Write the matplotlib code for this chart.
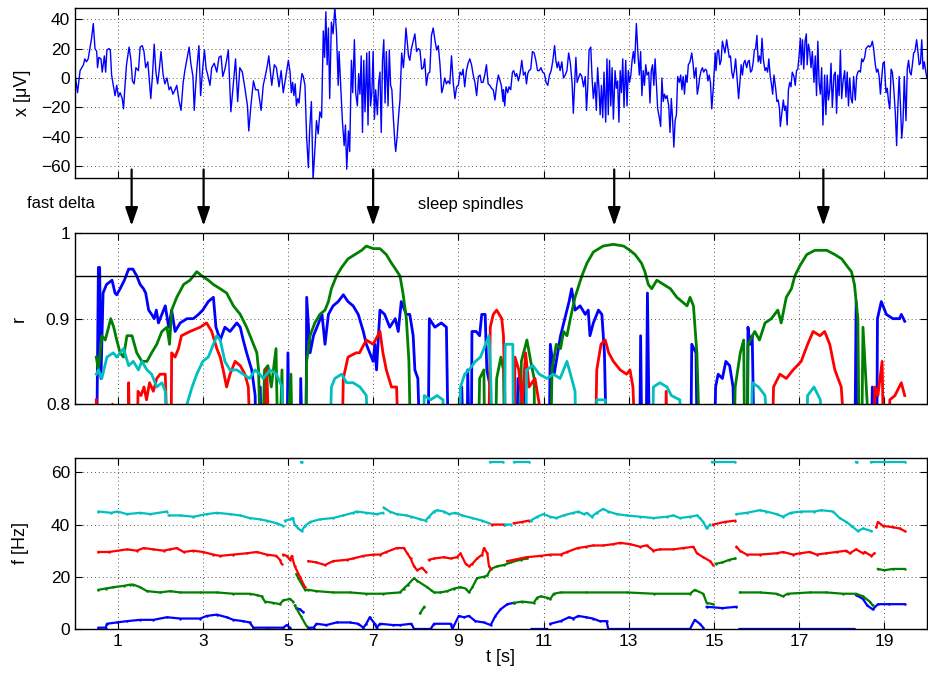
import numpy as np
import matplotlib
matplotlib.use('Agg')
import matplotlib.pyplot as plt

nan = float('nan')

# ---------------- data ----------------
# raw EEG trace, x [uV] against t [s]
eeg_t = [0.00, 0.06, 0.12, 0.16, 0.20, 0.23, 0.27, 0.31, 0.35, 0.39,
         0.43, 0.47, 0.51, 0.53, 0.56, 0.61, 0.64, 0.69, 0.72, 0.75,
         0.80, 0.83, 0.86, 0.90, 0.94, 0.98, 1.02, 1.06, 1.11, 1.14,
         1.17, 1.21, 1.27, 1.31, 1.35, 1.39, 1.43, 1.49, 1.53, 1.58,
         1.62, 1.66, 1.71, 1.74, 1.78, 1.82, 1.86, 1.90, 1.94, 1.98,
         2.02, 2.07, 2.11, 2.16, 2.21, 2.25, 2.30, 2.35, 2.39, 2.44,
         2.49, 2.54, 2.58, 2.63, 2.68, 2.72, 2.77, 2.80, 2.83, 2.86,
         2.91, 2.95, 3.00, 3.04, 3.08, 3.11, 3.17, 3.21, 3.27, 3.33,
         3.38, 3.43, 3.47, 3.52, 3.56, 3.60, 3.66, 3.72, 3.77, 3.82,
         3.87, 3.93, 3.99, 4.05, 4.08, 4.13, 4.19, 4.24, 4.30, 4.37,
         4.42, 4.48, 4.52, 4.55, 4.62, 4.68, 4.73, 4.79, 4.84, 4.89,
         5.01, 5.05, 5.08, 5.11, 5.14, 5.17, 5.20, 5.23, 5.26, 5.30,
         5.33, 5.36, 5.40, 5.44, 5.48, 5.51, 5.55, 5.59, 5.63, 5.67,
         5.71, 5.75, 5.79, 5.83, 5.86, 5.89, 5.92, 5.95, 5.98, 6.02,
         6.06, 6.10, 6.14, 6.18, 6.20, 6.24, 6.28, 6.32, 6.35, 6.38,
         6.42, 6.45, 6.49, 6.52, 6.56, 6.59, 6.63, 6.66, 6.69, 6.72,
         6.75, 6.78, 6.81, 6.85, 6.88, 6.91, 6.94, 6.97, 7.00, 7.03,
         7.06, 7.10, 7.13, 7.16, 7.19, 7.22, 7.25, 7.28, 7.31, 7.35,
         7.38, 7.41, 7.44, 7.47, 7.51, 7.53, 7.56, 7.60, 7.63, 7.67,
         7.71, 7.74, 7.77, 7.80, 7.83, 7.86, 7.90, 7.94, 7.98, 8.02,
         8.06, 8.10, 8.14, 8.18, 8.21, 8.25, 8.29, 8.33, 8.37, 8.41,
         8.45, 8.49, 8.53, 8.57, 8.61, 8.64, 8.68, 8.72, 8.76, 8.80,
         8.84, 8.88, 8.92, 8.96, 9.00, 9.04, 9.08, 9.11, 9.15, 9.19,
         9.23, 9.27, 9.31, 9.35, 9.39, 9.43, 9.47, 9.51, 9.54, 9.58,
         9.62, 9.66, 9.70, 9.74, 9.78, 9.82, 9.86, 9.90, 9.94, 9.98,
         10.01, 10.05,
         10.06, 10.09, 10.12, 10.16, 10.19, 10.23, 10.27, 10.30, 10.34, 10.37,
         10.41, 10.45, 10.49, 10.53, 10.57, 10.60, 10.63, 10.66, 10.70, 10.74,
         10.78, 10.82, 10.86, 10.90, 10.94, 10.98, 11.02, 11.06, 11.10, 11.14,
         11.18, 11.22, 11.26, 11.29, 11.32, 11.35, 11.39, 11.43, 11.47, 11.51,
         11.55, 11.59, 11.63, 11.67, 11.70, 11.73, 11.76, 11.79, 11.82, 11.86,
         11.90, 11.94, 11.98, 12.01, 12.04, 12.07, 12.11, 12.14, 12.17, 12.21,
         12.24, 12.27, 12.30, 12.33, 12.36, 12.39, 12.42, 12.46, 12.49, 12.52,
         12.55, 12.58, 12.61, 12.64, 12.68, 12.71, 12.74, 12.77, 12.80, 12.83,
         12.86, 12.89, 12.93, 12.96, 12.99, 13.02, 13.05, 13.08, 13.11, 13.14,
         13.18, 13.22, 13.25, 13.28, 13.31, 13.34, 13.37, 13.40, 13.43, 13.47,
         13.50, 13.53, 13.56, 13.59, 13.62, 13.65, 13.68, 13.72, 13.75, 13.78,
         13.81, 13.84, 13.87, 13.90, 13.94, 13.97, 14.00, 14.03, 14.06, 14.09,
         14.12, 14.15, 14.19, 14.22, 14.25, 14.28, 14.31, 14.34, 14.37, 14.40,
         14.44, 14.48, 14.51, 14.54, 14.58, 14.61, 14.64, 14.67, 14.70, 14.73,
         14.76, 14.80, 14.83, 14.86, 14.89, 14.92, 14.95, 14.99, 15.03,
         15.05, 15.08, 15.11, 15.14, 15.17, 15.20, 15.23, 15.26, 15.30, 15.33,
         15.36, 15.39, 15.42, 15.45, 15.48, 15.51, 15.55, 15.58, 15.61, 15.64,
         15.67, 15.70, 15.73, 15.77, 15.80, 15.83, 15.86, 15.89, 15.92, 15.95,
         15.98, 16.01, 16.04, 16.07, 16.10, 16.13, 16.16, 16.20, 16.23, 16.26,
         16.29, 16.32, 16.35, 16.38, 16.41, 16.45, 16.48, 16.51, 16.54, 16.56,
         16.59, 16.63, 16.66, 16.69, 16.72, 16.75, 16.78, 16.81, 16.84, 16.88,
         16.91, 16.94, 16.97, 17.00, 17.03, 17.05, 17.08, 17.11, 17.14, 17.17,
         17.19, 17.22, 17.25, 17.28, 17.31, 17.35, 17.38, 17.41, 17.44, 17.47,
         17.50, 17.53, 17.56, 17.60, 17.63, 17.66, 17.69, 17.72, 17.75, 17.78,
         17.82, 17.85, 17.88, 17.91, 17.94, 17.97, 18.00, 18.03, 18.07, 18.10,
         18.13, 18.16, 18.19, 18.22, 18.25, 18.28, 18.32, 18.35, 18.38, 18.41,
         18.44, 18.47, 18.50, 18.54, 18.57, 18.60, 18.63, 18.66, 18.69, 18.72,
         18.75, 18.79, 18.82, 18.85, 18.88, 18.91, 18.94, 18.97, 19.00, 19.04,
         19.07, 19.10, 19.13, 19.16, 19.19, 19.22, 19.26, 19.29, 19.32, 19.35,
         19.38, 19.41, 19.44, 19.47, 19.51, 19.54, 19.57, 19.60, 19.63, 19.66,
         19.69, 19.72, 19.76, 19.79, 19.82, 19.85, 19.88, 19.91, 19.94, 19.97,
         20.00]
eeg_x = [3, -10, 5, 7, 9, 13, 11, 13, 20, 27,
         37, 20, 18, 7, 14, 13, 4, 15, 4, 19,
         20, 19, 2, -5, -12, -5, -13, -10, -14, -21,
         -7, 9, 21, 13, -2, -4, 7, 5, 21, 22,
         18, 7, 11, 0, -14, 2, 23, 4, -4, 6,
         18, 2, -4, 0, -8, -6, -11, -8, -5, -15,
         -22, -3, 5, 13, 21, 10, 1, -22, -7, 6,
         22, -12, 7, 19, 6, 3, -5, 7, 10, 4,
         14, 15, 1, 6, 12, 19, -23, -3, 13, -16,
         7, 4, -7, -19, -36, -19, -2, -8, -8, -22,
         -5, 3, 9, 15, -5, 9, 7, -6, 5, -10,
         12, 4, -10, -3, -12, -4, -19, -14, -17, -4,
         3, 1, -5, -41, -61, -35, -16, -69, -50, -29,
         -38, -23, -27, 32, 14, 45, 9, 34, -14, 38,
         30, 48, 31, -5, 18, -6, -30, -46, -32, -62,
         -36, -50, 12, -10, 26, -10, -19, 3, -11, 15,
         -37, 12, -23, 17, -32, 18, -19, -10, 18, -28,
         -8, -25, -3, 4, -37, 12, 26, -17, 18, -19,
         19, -5, -8, -25, -44, -50, -41, -25, -15, 17,
         7, 18, 34, 25, 15, 12, 20, 25, 30, 18,
         20, 19, 6, 7, 13, -5, 3, 4, 29, 34,
         26, 19, 22, 9, -10, -7, 0, -4, -2, -4,
         15, -3, -14, -6, -5, 4, 2, 6, -6, 5,
         10, 13, 9, 2, -3, -12, 1, 2, -3, -3,
         2, 9, -4, -5, -7, -8, -15, -5, 2, -2,
         -5, -16,
         -8, -19, -6, -10, -6, -8, 4, 5, 1, 3,
         -2, 3, 12, 2, 4, -4, 3, 5, 6, 18,
         17, 12, 5, 5, 7, 4, 3, -3, -5, 2,
         5, 12, 22, 12, 7, 11, 5, 11, 0, 2,
         5, 17, 10, -3, -24, -5, 14, -3, 0, 3,
         1, -6, 1, -22, -5, 19, 21, 0, -14, -3,
         -22, 7, -6, -25, -5, -27, 4, -30, 13, -25,
         12, -19, 7, -28, 5, -7, -2, -30, 5, -10,
         13, -20, 12, -19, 5, -3, 2, 12, 18, 10,
         37, 15, 2, 18, -12, 5, -5, 9, 2, 4,
         -17, 5, 9, -5, 13, -4, -21, -27, -33, 0,
         -16, -11, -14, -12, -19, -37, -14, -28, -47, -29,
         -25, 1, -3, 2, -8, 1, -11, 2, -3, 9,
         11, 17, 10, 0, 7, -11, -6, 1, 5, 7,
         4, 6, 5, -2, 2, -3, -21, -5, 17,
         5, 18, 19, 9, 12, 25, 21, 17, 26, 20,
         14, 15, 4, 0, 5, 13, -3, -14, -3, 9,
         2, 10, 12, 7, 11, 12, 4, 5, 10, 19,
         20, 29, 11, 15, 10, 27, 13, 5, 7, 4,
         13, 2, -4, -11, 2, -7, -16, -15, -21, -33,
         -25, -15, -22, -19, -32, -8, -3, -6, 4, 1,
         -5, 5, 6, 15, 27, 9, 26, 6, 25, 30,
         9, 23, 18, 7, 18, -3, 15, -12, 25, -3,
         -11, 7, -32, 2, -25, 2, -15, -8, 10, -20,
         2, 4, -24, 2, -12, 19, -14, -3, 5, -13,
         4, -19, 0, -14, -17, 1, -15, 1, 4, 5,
         4, 13, 11, 14, 20, 21, 22, 21, 22, 25,
         20, 9, 4, 6, 1, -11, 0, 10, 11, -10,
         -7, -16, -21, 6, 4, -6, -24, -46, -19, 1,
         -19, -41, -30, 1, -29, 6, 12, 4, 2, 9,
         17, 18, 26, 18, 9, 10, 26, 6, 11, 5,
         0]

# correlation r per component, (t, r); values under 0.8 fall off the axis
r_blue = [(0.50, 0.70), (0.55, 0.96), (0.58, 0.96), (0.61, 0.83), (0.66, 0.93), (0.74, 0.94),
          (0.87, 0.945), (0.94, 0.93), (0.98, 0.928), (1.06, 0.935), (1.16, 0.945), (1.26, 0.958),
          (1.36, 0.958), (1.45, 0.95), (1.53, 0.94), (1.61, 0.935), (1.66, 0.93), (1.73, 0.91),
          (1.80, 0.905), (1.86, 0.90), (1.91, 0.91), (1.96, 0.895), (2.04, 0.905), (2.12, 0.915),
          (2.20, 0.89), (2.27, 0.91), (2.35, 0.885), (2.47, 0.895), (2.63, 0.90), (2.78, 0.90),
          (2.90, 0.905), (3.00, 0.91), (3.13, 0.92), (3.25, 0.925), (3.31, 0.89), (3.41, 0.875),
          (3.52, 0.89), (3.64, 0.885), (3.80, 0.895), (3.88, 0.89), (3.95, 0.875), (4.03, 0.86),
          (4.15, 0.84), (4.23, 0.81), (4.27, 0.70), (4.33, 0.70), (4.35, 0.82), (4.40, 0.70),
          (4.48, 0.70), (4.50, 0.83), (4.55, 0.70), (4.97, 0.70), (5.00, 0.86), (5.05, 0.70),
          (5.28, 0.70), (5.30, 0.83), (5.36, 0.70), (5.42, 0.70), (5.44, 0.925), (5.52, 0.86),
          (5.60, 0.88), (5.72, 0.895), (5.80, 0.905), (5.87, 0.87), (5.95, 0.905), (6.06, 0.915),
          (6.18, 0.92), (6.30, 0.928), (6.41, 0.92), (6.53, 0.915), (6.65, 0.905), (6.77, 0.885),
          (6.84, 0.87), (6.92, 0.86), (7.00, 0.85), (7.04, 0.87), (7.08, 0.84), (7.16, 0.91),
          (7.27, 0.905), (7.39, 0.89), (7.52, 0.90), (7.59, 0.885), (7.66, 0.92), (7.78, 0.905),
          (7.86, 0.905), (7.94, 0.88), (7.98, 0.84), (8.05, 0.83), (8.13, 0.70), (8.28, 0.70),
          (8.32, 0.90), (8.45, 0.89), (8.60, 0.895), (8.72, 0.89), (8.78, 0.70), (9.05, 0.70),
          (9.08, 0.82), (9.15, 0.70), (9.20, 0.70), (9.22, 0.84), (9.28, 0.70), (9.30, 0.70),
          (9.32, 0.885), (9.42, 0.885), (9.50, 0.88), (9.55, 0.905), (9.63, 0.905), (9.67, 0.84),
          (9.75, 0.82), (9.80, 0.70), (10.35, 0.70), (10.40, 0.83), (10.50, 0.81), (10.55, 0.83),
          (10.60, 0.70), (11.12, 0.70), (11.16, 0.87), (11.25, 0.835), (11.40, 0.88), (11.60, 0.92),
          (11.66, 0.935), (11.74, 0.91), (11.86, 0.915), (11.98, 0.905), (12.05, 0.91), (12.09, 0.88),
          (12.17, 0.895), (12.29, 0.91), (12.37, 0.905), (12.43, 0.86), (12.50, 0.70), (13.25, 0.70),
          (13.28, 0.88), (13.32, 0.70), (13.40, 0.70), (13.44, 0.93), (13.50, 0.70), (14.45, 0.70),
          (14.48, 0.87), (14.58, 0.86), (14.62, 0.70), (15.00, 0.70), (15.04, 0.82), (15.10, 0.835),
          (15.20, 0.83), (15.28, 0.85), (15.37, 0.845), (15.45, 0.82), (15.50, 0.70), (15.78, 0.70),
          (15.80, 0.89), (15.85, 0.87), (15.90, 0.88), (15.96, 0.70), (18.30, 0.70), (18.34, 0.92),
          (18.42, 0.70), (18.68, 0.70), (18.72, 0.82), (18.80, 0.70), (18.82, 0.70), (18.84, 0.90),
          (18.93, 0.92), (19.05, 0.905), (19.20, 0.90), (19.36, 0.90), (19.40, 0.905), (19.48, 0.897)]
r_green = [(0.50, 0.855), (0.55, 0.84), (0.63, 0.88), (0.71, 0.875), (0.79, 0.89), (0.84, 0.90),
           (0.91, 0.89), (0.98, 0.875), (1.06, 0.86), (1.14, 0.855), (1.22, 0.88), (1.34, 0.88),
           (1.45, 0.86), (1.57, 0.85), (1.69, 0.85), (1.80, 0.86), (1.92, 0.87), (2.04, 0.885),
           (2.16, 0.89), (2.22, 0.87), (2.27, 0.91), (2.39, 0.925), (2.55, 0.94), (2.70, 0.945),
           (2.86, 0.955), (2.98, 0.95), (3.13, 0.945), (3.25, 0.94), (3.41, 0.935), (3.56, 0.93),
           (3.72, 0.915), (3.88, 0.905), (4.03, 0.89), (4.15, 0.875), (4.27, 0.86), (4.31, 0.84),
           (4.38, 0.70), (4.45, 0.84), (4.53, 0.845), (4.61, 0.82), (4.72, 0.865), (4.78, 0.70),
           (4.86, 0.84), (4.90, 0.70), (5.07, 0.835), (5.12, 0.70), (5.40, 0.70), (5.44, 0.85),
           (5.52, 0.88), (5.63, 0.895), (5.75, 0.905), (5.87, 0.91), (5.95, 0.92), (6.02, 0.935),
           (6.14, 0.95), (6.26, 0.96), (6.41, 0.97), (6.57, 0.975), (6.73, 0.98), (6.84, 0.985),
           (7.00, 0.982), (7.16, 0.982), (7.31, 0.975), (7.43, 0.965), (7.50, 0.96), (7.63, 0.95),
           (7.70, 0.93), (7.78, 0.90), (7.84, 0.85), (7.90, 0.70), (9.45, 0.70), (9.50, 0.83),
           (9.60, 0.84), (9.63, 0.70), (9.85, 0.70), (9.90, 0.83), (10.00, 0.855), (10.06, 0.84),
           (10.10, 0.70), (10.42, 0.70), (10.48, 0.85), (10.61, 0.875), (10.70, 0.85), (10.78, 0.83),
           (10.80, 0.70), (11.15, 0.70), (11.20, 0.84), (11.30, 0.87), (11.40, 0.865), (11.47, 0.885),
           (11.55, 0.88), (11.63, 0.90), (11.74, 0.925), (11.90, 0.95), (12.02, 0.965), (12.17, 0.978),
           (12.40, 0.985), (12.64, 0.987), (12.88, 0.985), (13.03, 0.98), (13.15, 0.975), (13.30, 0.965),
           (13.38, 0.955), (13.46, 0.94), (13.54, 0.935), (13.66, 0.945), (13.82, 0.94), (13.98, 0.935),
           (14.13, 0.925), (14.25, 0.92), (14.37, 0.915), (14.44, 0.925), (14.52, 0.915), (14.60, 0.86),
           (14.70, 0.70), (15.45, 0.70), (15.50, 0.82), (15.62, 0.86), (15.70, 0.875), (15.73, 0.70),
           (15.78, 0.70), (15.80, 0.87), (15.96, 0.885), (16.07, 0.875), (16.20, 0.895), (16.35, 0.90),
           (16.50, 0.91), (16.58, 0.895), (16.70, 0.925), (16.82, 0.935), (16.90, 0.95), (17.02, 0.962),
           (17.18, 0.975), (17.37, 0.98), (17.65, 0.98), (17.84, 0.975), (18.00, 0.97), (18.15, 0.96),
           (18.23, 0.955), (18.30, 0.94), (18.38, 0.90), (18.42, 0.70), (18.46, 0.70), (18.50, 0.89),
           (18.60, 0.80), (18.62, 0.70)]
r_red = [(0.50, 0.805), (0.53, 0.70), (0.85, 0.70), (0.88, 0.80), (0.90, 0.70), (1.24, 0.70),
         (1.26, 0.825), (1.30, 0.70), (1.45, 0.70), (1.48, 0.815), (1.55, 0.81), (1.62, 0.82),
         (1.68, 0.805), (1.75, 0.825), (1.84, 0.815), (1.92, 0.83), (2.00, 0.835), (2.12, 0.835),
         (2.20, 0.70), (2.25, 0.70), (2.27, 0.86), (2.35, 0.855), (2.43, 0.865), (2.50, 0.88),
         (2.70, 0.885), (2.94, 0.89), (3.09, 0.895), (3.21, 0.885), (3.33, 0.865), (3.41, 0.855),
         (3.48, 0.84), (3.56, 0.82), (3.64, 0.835), (3.76, 0.85), (3.88, 0.845), (3.99, 0.835),
         (4.07, 0.82), (4.15, 0.70), (4.45, 0.70), (4.50, 0.84), (4.60, 0.70), (6.25, 0.70),
         (6.30, 0.83), (6.41, 0.855), (6.60, 0.86), (6.68, 0.86), (6.84, 0.875), (7.00, 0.87),
         (7.16, 0.885), (7.23, 0.86), (7.31, 0.84), (7.43, 0.82), (7.55, 0.82), (7.63, 0.70),
         (9.70, 0.70), (9.75, 0.89), (9.82, 0.905), (9.90, 0.91), (10.02, 0.90), (10.06, 0.88),
         (10.14, 0.70), (10.30, 0.70), (10.33, 0.855), (10.42, 0.84), (10.50, 0.80), (10.58, 0.86),
         (10.66, 0.82), (10.80, 0.83), (10.90, 0.80), (11.00, 0.70), (12.20, 0.70), (12.25, 0.84),
         (12.35, 0.87), (12.45, 0.875), (12.53, 0.86), (12.64, 0.85), (12.80, 0.84), (12.95, 0.835),
         (13.03, 0.84), (13.10, 0.82), (13.19, 0.70), (13.85, 0.70), (13.88, 0.815), (13.92, 0.70),
         (16.35, 0.70), (16.40, 0.82), (16.55, 0.835), (16.70, 0.83), (16.86, 0.84), (17.05, 0.85),
         (17.20, 0.87), (17.33, 0.885), (17.49, 0.88), (17.60, 0.885), (17.72, 0.87), (17.84, 0.84),
         (17.99, 0.82), (18.15, 0.70), (18.75, 0.70), (18.78, 0.82), (18.85, 0.81), (18.95, 0.85),
         (19.00, 0.70), (19.10, 0.70), (19.13, 0.805), (19.25, 0.81), (19.35, 0.82), (19.40, 0.825),
         (19.48, 0.81)]
r_cyan = [(0.50, 0.835), (0.55, 0.84), (0.63, 0.83), (0.75, 0.855), (0.90, 0.86), (0.98, 0.855),
          (1.14, 0.865), (1.26, 0.845), (1.37, 0.85), (1.49, 0.84), (1.57, 0.85), (1.69, 0.84),
          (1.80, 0.835), (1.92, 0.82), (2.04, 0.825), (2.12, 0.815), (2.23, 0.70), (2.61, 0.70),
          (2.63, 0.80), (2.75, 0.82), (2.86, 0.835), (3.00, 0.85), (3.13, 0.855), (3.25, 0.87),
          (3.33, 0.88), (3.41, 0.875), (3.52, 0.85), (3.64, 0.84), (3.80, 0.84), (3.95, 0.835),
          (4.10, 0.83), (4.23, 0.84), (4.34, 0.835), (4.42, 0.83), (4.58, 0.84), (4.73, 0.835),
          (4.86, 0.82), (4.93, 0.70), (5.96, 0.70), (6.02, 0.82), (6.10, 0.83), (6.26, 0.835),
          (6.38, 0.825), (6.53, 0.825), (6.69, 0.82), (6.84, 0.81), (6.92, 0.70), (8.15, 0.70),
          (8.20, 0.81), (8.35, 0.805), (8.50, 0.81), (8.64, 0.805), (8.70, 0.70), (9.02, 0.70),
          (9.05, 0.82), (9.15, 0.835), (9.25, 0.84), (9.40, 0.85), (9.52, 0.855), (9.64, 0.87),
          (9.72, 0.88), (9.75, 0.85), (9.83, 0.70), (10.08, 0.70), (10.10, 0.87), (10.28, 0.87),
          (10.30, 0.70), (10.58, 0.70), (10.60, 0.84), (10.75, 0.845), (10.90, 0.835), (11.08, 0.83),
          (11.23, 0.835), (11.39, 0.83), (11.55, 0.85), (11.66, 0.83), (11.74, 0.815), (11.78, 0.70),
          (12.20, 0.70), (12.25, 0.805), (12.45, 0.805), (12.50, 0.70), (13.55, 0.70), (13.58, 0.82),
          (13.73, 0.825), (13.90, 0.82), (14.00, 0.81), (14.20, 0.805), (14.30, 0.70), (15.85, 0.70),
          (15.90, 0.825), (16.05, 0.82), (16.20, 0.81), (16.35, 0.70), (17.15, 0.70), (17.20, 0.81),
          (17.35, 0.82), (17.50, 0.805), (17.55, 0.70)]

# frequency per component, (t, f); nan separates the pieces of a track
f_blue = [(0.55, 0.5), (0.72, 0.5), (0.75, 2), (0.98, 2.5), (1.22, 3), (1.53, 3.5), (1.84, 3.5),
          (2.16, 4.5), (2.47, 4), (2.94, 4), (3.09, 5), (3.33, 5.5), (3.56, 4.5), (3.72, 3.5),
          (3.95, 3), (4.10, 2.5), (4.19, 0.5), (4.50, 0.5), (4.89, 0.5), (4.97, 1.5), (5.05, 0.5),
          (nan, nan), (5.20, 8), (5.28, 7.5), (5.36, 6.5), (nan, nan),
          (5.48, 0.5), (5.60, 0.5), (5.67, 2), (5.90, 1.5), (6.14, 2.5), (6.45, 2.5), (6.65, 2),
          (6.77, 0.5), (6.84, 2), (6.92, 4.5), (7.04, 2), (7.08, 0.5), (7.16, 2), (7.47, 1.5),
          (7.63, 1.5), (7.90, 2), (7.96, 0), (8.35, 0), (8.43, 2), (8.82, 2), (8.86, 0), (9.01, 5),
          (9.13, 4.5), (9.25, 5), (9.40, 3), (9.60, 2.5), (9.76, 1.5), (9.87, 5), (9.99, 7.5),
          (10.15, 9.5), (10.30, 10), (nan, nan), (10.72, 0), (11.08, 0), (nan, nan),
          (11.16, 2), (11.40, 3), (11.60, 4.5), (11.70, 4), (11.82, 5), (12.00, 4.5), (12.16, 4),
          (12.32, 3), (12.48, 3), (12.52, 0), (13.50, 0), (14.44, 0), (14.55, 3.5), (14.67, 2),
          (14.75, 0.5), (nan, nan), (14.83, 8.5), (15.20, 8), (15.53, 8.5), (nan, nan),
          (15.60, 0), (16.50, 0), (17.50, 0), (18.30, 0), (nan, nan),
          (18.34, 13), (18.50, 11.5), (18.60, 9), (18.73, 7.5), (18.85, 9.5), (19.10, 9.5), (19.48, 9.5)]
f_green = [(0.55, 15), (0.72, 15.5), (0.90, 16), (1.14, 16.5), (1.30, 17), (1.37, 17), (1.53, 16),
           (1.69, 14.5), (2.00, 14), (2.23, 14.5), (2.47, 14), (2.94, 14), (3.33, 14), (3.72, 13.5),
           (4.10, 13.5), (4.27, 13), (4.38, 12.5), (4.46, 10.5), (4.66, 10), (4.81, 9.5), (4.89, 11),
           (5.05, 11.5), (5.12, 10.5), (nan, nan), (5.16, 9), (5.30, 5), (5.44, 1), (nan, nan),
           (5.20, 21), (5.24, 19.5), (5.40, 15), (5.48, 15), (5.67, 14.5), (6.06, 14), (6.45, 14),
           (6.84, 13.5), (7.23, 13.5), (7.63, 14), (7.72, 15.5), (7.82, 17), (7.96, 19.5), (8.03, 18.5),
           (8.27, 16), (8.35, 15), (8.43, 14), (8.58, 14), (8.74, 14.5), (8.90, 15.5), (9.05, 16),
           (9.17, 15.5), (9.25, 14), (9.33, 16), (9.44, 19.5), (9.60, 20), (9.68, 20.5), (9.76, 23),
           (9.91, 24), (10.07, 24.5), (10.23, 25.5), (10.46, 26.5), (10.62, 27), (nan, nan),
           (10.30, 10), (10.50, 10.5), (10.77, 10), (10.85, 12), (10.93, 12.5), (11.08, 12),
           (11.16, 11.5), (11.24, 13.5), (11.40, 14), (12.00, 14), (12.95, 14), (13.60, 13.5),
           (14.44, 13.5), (14.55, 15), (14.75, 13.5), (14.83, 10), (14.98, 9.5), (nan, nan),
           (15.05, 25), (15.20, 25.5), (15.36, 26.5), (15.50, 27), (nan, nan),
           (15.61, 14), (16.08, 14), (16.47, 13.5), (16.62, 12.5), (16.73, 13.5), (17.25, 14),
           (17.64, 14), (18.03, 13.5), (18.34, 13.5), (18.50, 12.5), (18.66, 10.5), (18.73, 9),
           (nan, nan), (18.85, 23), (19.00, 22.5), (19.20, 23), (19.48, 23), (nan, nan),
           (8.10, 6), (8.20, 8.5)]
f_red = [(0.55, 29.5), (0.80, 29.5), (1.22, 30.5), (1.45, 30), (1.61, 31), (1.84, 30.5), (2.08, 30),
         (2.23, 30.5), (2.39, 31), (2.55, 29.5), (2.78, 30), (3.00, 29.5), (3.25, 28.5), (3.40, 28),
         (3.72, 28.5), (4.03, 29), (4.27, 29.5), (4.50, 28.5), (4.73, 28), (4.81, 26.5), (4.85, 25),
         (nan, nan), (4.89, 28.5), (4.97, 28), (5.05, 26.5), (5.09, 28), (5.16, 24), (5.28, 20),
         (5.40, 16), (nan, nan), (5.48, 26), (5.67, 25.5), (5.87, 24.5), (6.06, 26), (6.38, 26.5),
         (6.53, 27), (6.77, 28), (7.00, 28.5), (7.16, 28.5), (7.31, 29.5), (7.55, 31), (7.72, 31),
         (7.80, 29), (7.88, 27), (7.96, 24), (8.03, 22.5), (8.15, 23.5), (8.23, 22), (nan, nan),
         (8.31, 26.5), (8.43, 27), (8.66, 27.5), (8.82, 27), (8.97, 27.5), (9.05, 29), (9.17, 25),
         (9.25, 24), (9.33, 25), (9.44, 27), (9.56, 28.5), (9.60, 31), (9.68, 29), (9.72, 24),
         (9.76, 23), (nan, nan), (10.15, 26), (10.30, 26.5), (10.60, 27.5), (10.93, 28),
         (11.16, 28.5), (11.40, 28.5), (11.55, 29.5), (11.80, 31), (12.00, 31.5), (12.16, 32),
         (12.40, 32), (12.64, 32.5), (12.80, 33), (13.03, 32.5), (13.27, 31.5), (13.42, 32),
         (13.58, 30), (13.73, 30.5), (14.05, 30.5), (14.28, 31), (14.52, 31.5), (14.60, 29),
         (14.75, 27.5), (14.91, 26), (14.98, 24.5), (nan, nan), (15.53, 31.5), (15.61, 30),
         (15.77, 28.5), (16.08, 28.5), (16.47, 29), (16.62, 29.5), (16.86, 28.5), (17.02, 29),
         (17.25, 29.5), (17.41, 28.5), (17.64, 29), (17.88, 29.5), (18.11, 30), (18.19, 29),
         (18.34, 30.5), (18.50, 29), (18.54, 29.5), (18.70, 28), (18.77, 29)]
f_red_hi = [(9.78, 40), (10.07, 40), (nan, nan), (10.30, 40.5), (10.50, 41), (10.65, 41.5),
            (nan, nan), (14.98, 40), (15.25, 41), (15.50, 41.5), (nan, nan),
            (18.81, 39), (18.85, 41), (18.97, 39.5), (19.20, 39), (19.36, 38.5), (19.48, 37.5)]
f_cyan = [(0.55, 45), (0.85, 44.5), (1.00, 45), (1.22, 44), (1.53, 44.5), (1.77, 44), (2.16, 45),
          (nan, nan), (2.20, 43.5), (2.47, 43.5), (2.78, 43), (3.09, 44), (3.33, 44.5), (3.64, 44),
          (3.88, 43.5), (4.10, 42.5), (4.34, 42), (4.50, 41.5), (4.73, 40.5), (4.89, 39.5),
          (nan, nan), (4.93, 41.5), (5.05, 42), (5.11, 42.5), (5.16, 40), (5.24, 38.5), (5.32, 37.5),
          (5.40, 39.5), (5.52, 41), (5.75, 42), (6.06, 42.5), (6.30, 43.5), (6.53, 44.5), (6.61, 45),
          (6.84, 44.5), (7.08, 44), (7.23, 44.5), (nan, nan), (7.25, 46.5), (7.39, 45), (7.55, 44),
          (7.78, 43.5), (7.90, 43), (8.11, 42), (8.23, 41.5), (8.31, 43), (8.43, 45), (8.50, 45.5),
          (8.66, 45), (8.78, 44), (8.93, 44.5), (9.09, 43.5), (9.33, 42.5), (9.56, 41.5),
          (9.72, 40.5), (nan, nan), (10.10, 40), (10.23, 40), (nan, nan), (10.70, 41.5),
          (10.85, 43), (11.00, 44), (11.16, 43), (11.30, 42.5), (11.47, 43.5), (11.70, 44.5),
          (11.82, 45), (11.94, 44), (12.02, 44.5), (12.13, 43), (12.25, 44.5), (12.40, 46),
          (12.52, 45), (12.72, 44), (12.95, 43.5), (13.27, 43), (13.58, 42.5), (13.90, 43),
          (14.05, 43.5), (14.20, 42.5), (14.44, 43), (14.60, 43.5), (14.67, 42.5), (14.75, 41),
          (14.83, 38.5), (14.91, 40), (nan, nan), (15.53, 44), (15.77, 44.5), (16.08, 45.5),
          (16.23, 45), (16.47, 44), (16.62, 43), (16.80, 44.5), (17.05, 45), (17.36, 45),
          (17.52, 45.5), (17.80, 45), (17.95, 42.5), (18.11, 41), (18.23, 39.5), (18.38, 37.5),
          (18.50, 38.5), (18.70, 37.5)]
f_cyan_hi = [(5.31, 64), (5.34, 64), (nan, nan), (9.75, 64), (10.06, 64), (nan, nan),
             (10.30, 64), (10.65, 64), (nan, nan), (14.95, 64), (15.50, 64), (nan, nan),
             (18.33, 64), (18.36, 64), (nan, nan), (18.70, 64), (19.48, 64)]

arrow_t = [1.33, 3.02, 7.0, 12.66, 17.57]
xticks = [1, 3, 5, 7, 9, 11, 13, 15, 17, 19]

# ---------------- plotting ----------------
plt.rcParams['font.family'] = ['Liberation Sans', 'DejaVu Sans']
plt.rcParams['font.size'] = 12.5

cb = (0, 0, 1)
cg = (0, 0.5, 0)
cr = (1, 0, 0)
cc = (0, 0.75, 0.75)


def setup(ax):
    ax.set_xlim(0, 20)
    ax.set_xticks(xticks)
    ax.tick_params(direction='in', top=True, right=True, length=5, width=0.8, labelsize=12.5)
    ax.grid(True, linestyle=(0, (1, 3)), color='0.35', linewidth=0.7)
    ax.set_axisbelow(True)
    for s in ax.spines.values():
        s.set_linewidth(1.0)


def xy(pts):
    a = np.array(pts, dtype=float)
    return a[:, 0], a[:, 1]


fig = plt.figure(figsize=(9.29, 6.78), dpi=100)
ax1 = fig.add_axes([0.0807, 0.7375, 0.917, 0.2505])
ax2 = fig.add_axes([0.0807, 0.404, 0.917, 0.252])
ax3 = fig.add_axes([0.0807, 0.0723, 0.917, 0.2522])

# top: EEG
setup(ax1)
ax1.plot(eeg_t, eeg_x, color=cb, lw=1.0)
ax1.set_ylim(-68, 47.5)
ax1.set_yticks([-60, -40, -20, 0, 20, 40])
ax1.set_yticklabels(['\u221260', '\u221240', '\u221220', '0', '20', '40'])
ax1.tick_params(labelbottom=False)
ax1.set_ylabel('x [\u03bcV]', fontsize=13)
ax1.yaxis.set_label_coords(-0.052, 0.5)

# middle: r
setup(ax2)
for pts, c in [(r_blue, cb), (r_green, cg), (r_red, cr), (r_cyan, cc)]:
    t, r = xy(pts)
    ax2.plot(t, r, color=c, lw=2.0)
ax2.axhline(0.95, color='k', lw=1.0)
ax2.set_ylim(0.8, 1.0)
ax2.set_yticks([0.8, 0.9, 1.0])
ax2.set_yticklabels(['0.8', '0.9', '1'])
ax2.tick_params(labelbottom=False)
ax2.set_ylabel('r', fontsize=13)
ax2.yaxis.set_label_coords(-0.056, 0.5)

# bottom: f
setup(ax3)
for pts, c in [(f_blue, cb), (f_green, cg), (f_red, cr), (f_red_hi, cr),
               (f_cyan, cc), (f_cyan_hi, cc)]:
    t, f = xy(pts)
    ax3.plot(t, f, '.-', color=c, lw=1.6, ms=3.5, mew=0)
ax3.set_ylim(0, 65.5)
ax3.set_yticks([0, 20, 40, 60])
ax3.set_xlabel('t [s]', fontsize=13, labelpad=0)
ax3.set_ylabel('f [Hz]', fontsize=13)
ax3.yaxis.set_label_coords(-0.054, 0.5)

# arrows and notes between the top panels
for t in arrow_t:
    ax1.annotate('', xy=(t, 0.667), xytext=(t, 0.750),
                 xycoords=('data', 'figure fraction'),
                 textcoords=('data', 'figure fraction'),
                 arrowprops=dict(arrowstyle='-|>,head_length=1.1,head_width=0.38',
                                 color='k', lw=1.6, shrinkA=0, shrinkB=0,
                                 mutation_scale=10),
                 annotation_clip=False)
fig.text(0.029, 0.700, 'fast delta', fontsize=12, va='center')
fig.text(0.450, 0.698, 'sleep spindles', fontsize=12, va='center')

fig.savefig('out.png', dpi=100)
